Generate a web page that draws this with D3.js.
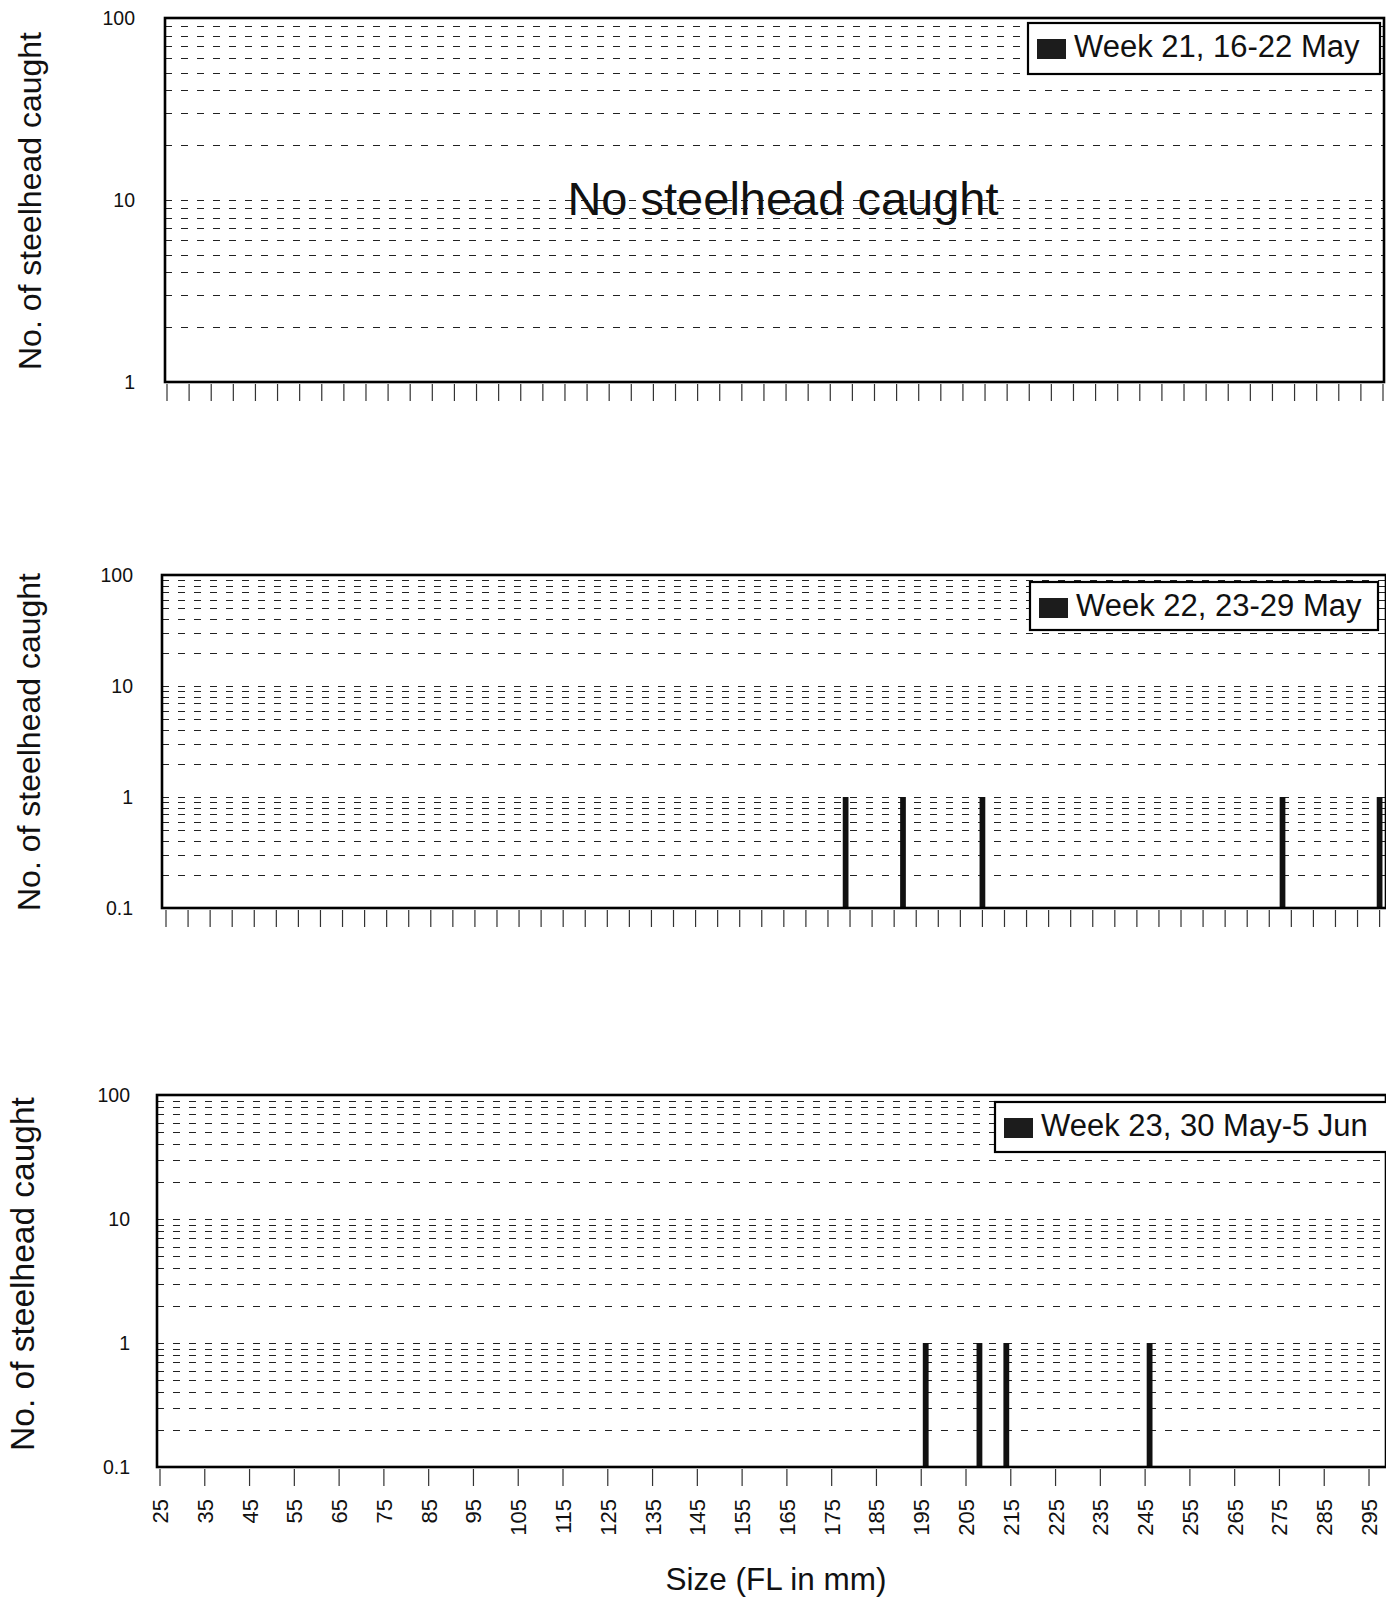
<!DOCTYPE html>
<html>
<head>
<meta charset="utf-8">
<script src="https://cdn.jsdelivr.net/npm/d3@7"></script>
<style>
  html, body { margin: 0; padding: 0; background: #fff; }
  svg { display: block; font-family: "Liberation Sans", Arial, sans-serif; }
</style>
</head>
<body>
<svg id="chart" width="1386" height="1597"></svg>
<script>
// Weekly length-frequency of steelhead caught (fork length, mm)
const weekLabels = ["Week 21, 16-22 May", "Week 22, 23-29 May", "Week 23, 30 May-5 Jun"];

const week21Sizes = [];
const week21Counts = [];
const week22Sizes = [179, 192, 210, 278, 300];
const week22Counts = [1, 1, 1, 1, 1];
const week23Sizes = [196, 208, 214, 246];
const week23Counts = [1, 1, 1, 1];

const sizeTickLabels = [25, 35, 45, 55, 65, 75, 85, 95, 105, 115, 125, 135, 145, 155, 165,
  175, 185, 195, 205, 215, 225, 235, 245, 255, 265, 275, 285, 295];
const countTickLabels = ["0.1", "1", "10", "100"];

const yTitle = "No. of steelhead caught";
const xTitle = "Size (FL in mm)";
const emptyNote = "No steelhead caught";

// Panel geometry
const panels = [
  { sizes: week21Sizes, counts: week21Counts, label: weekLabels[0],
    left: 165, top: 18, right: 1384, bottom: 382,
    x25: 167, x300: 1383, yMin: 1, tickStep: 5, showLabels: false,
    legend: { x: 1028, y: 23, w: 352, h: 51 }, titleX: 41, titleY: 201, titleSize: 32, yLabelX: 135, note: true },
  { sizes: week22Sizes, counts: week22Counts, label: weekLabels[1],
    left: 162, top: 575, right: 1386, bottom: 908,
    x25: 166, x300: 1379.6, yMin: 0.1, tickStep: 5, showLabels: false,
    legend: { x: 1030, y: 582, w: 348, h: 48 }, titleX: 40, titleY: 742, titleSize: 32, yLabelX: 133 },
  { sizes: week23Sizes, counts: week23Counts, label: weekLabels[2],
    left: 157, top: 1095, right: 1386, bottom: 1467,
    x25: 160, x300: 1391.4, yMin: 0.1, tickStep: 10, showLabels: true,
    legend: { x: 995, y: 1102, w: 400, h: 50 }, titleX: 34, titleY: 1274, titleSize: 33.5, yLabelX: 130 }
];

const svg = d3.select("#chart");
svg.append("rect").attr("width", 1386).attr("height", 1597).attr("fill", "#fff");

panels.forEach(p => {
  const g = svg.append("g");
  const x = d3.scaleLinear().domain([25, 300]).range([p.x25, p.x300]);
  const y = d3.scaleLog().domain([p.yMin, 100]).range([p.bottom, p.top]);

  // dashed gridlines at every log step inside the panel
  const gridVals = [];
  for (let dec = p.yMin; dec < 100; dec *= 10) {
    for (let k = 1; k <= 9; k++) {
      const v = +(dec * k).toPrecision(3);
      if (v > p.yMin && v < 100) gridVals.push(v);
    }
    if (dec * 10 < 100) gridVals.push(+(dec * 10).toPrecision(3));
  }
  g.append("g").selectAll("line").data(Array.from(new Set(gridVals))).join("line")
    .attr("x1", p.left).attr("x2", p.right)
    .attr("y1", d => Math.round(y(d)) + 0.5).attr("y2", d => Math.round(y(d)) + 0.5)
    .attr("stroke", "#222").attr("stroke-width", 1.1)
    .attr("stroke-dasharray", "7,9");

  // bars
  g.append("g").selectAll("rect").data(p.sizes.map((s, i) => ({ s, c: p.counts[i] }))).join("rect")
    .attr("x", d => x(d.s - 0.65))
    .attr("width", d => x(d.s + 0.65) - x(d.s - 0.65))
    .attr("y", d => y(d.c))
    .attr("height", d => y(p.yMin) - y(d.c))
    .attr("fill", "#111");

  // plot frame
  g.append("rect")
    .attr("x", p.left).attr("y", p.top)
    .attr("width", p.right - p.left).attr("height", p.bottom - p.top)
    .attr("fill", "none").attr("stroke", "#000").attr("stroke-width", 2.6);

  // x axis tick marks
  const tickVals = d3.range(25, 301, p.tickStep).filter(v => x(v) <= p.right + 1);
  g.append("g").selectAll("line").data(tickVals).join("line")
    .attr("x1", d => x(d)).attr("x2", d => x(d))
    .attr("y1", p.bottom + 2).attr("y2", p.bottom + 19)
    .attr("stroke", "#333").attr("stroke-width", 1.2);

  if (p.showLabels) {
    g.append("g").selectAll("text").data(sizeTickLabels).join("text")
      .attr("transform", d => `translate(${x(d) + 8},${p.bottom + 32}) rotate(-90)`)
      .attr("text-anchor", "end")
      .attr("font-size", 22)
      .attr("fill", "#111")
      .text(d => d);
  }

  // y labels at decades
  const decades = countTickLabels.filter(t => +t >= p.yMin);
  g.append("g").selectAll("text").data(decades).join("text")
    .attr("x", p.yLabelX).attr("y", d => y(+d))
    .attr("dy", "0.35em")
    .attr("text-anchor", "end")
    .attr("font-size", 19.5)
    .attr("fill", "#111")
    .text(d => d);

  // y title
  g.append("text")
    .attr("transform", `translate(${p.titleX},${p.titleY}) rotate(-90)`)
    .attr("text-anchor", "middle")
    .attr("font-size", p.titleSize)
    .attr("fill", "#111")
    .text(yTitle);

  // legend
  const L = p.legend;
  const lg = g.append("g");
  lg.append("rect").attr("x", L.x).attr("y", L.y).attr("width", L.w).attr("height", L.h)
    .attr("fill", "#fff").attr("stroke", "#000").attr("stroke-width", 2.2);
  lg.append("rect").attr("x", L.x + 9).attr("y", L.y + 16).attr("width", 29).attr("height", 20)
    .attr("fill", "#1c1c1c");
  lg.append("text").attr("x", L.x + 46).attr("y", L.y + 34)
    .attr("font-size", 31).attr("fill", "#111")
    .text(p.label);

  if (p.note) {
    g.append("text")
      .attr("x", 783).attr("y", 215)
      .attr("text-anchor", "middle")
      .attr("font-size", 47)
      .attr("fill", "#111")
      .text(emptyNote);
  }
});

// x axis title
svg.append("text")
  .attr("x", 776).attr("y", 1590)
  .attr("text-anchor", "middle")
  .attr("font-size", 31.5)
  .attr("fill", "#111")
  .text(xTitle);
</script>
</body>
</html>
